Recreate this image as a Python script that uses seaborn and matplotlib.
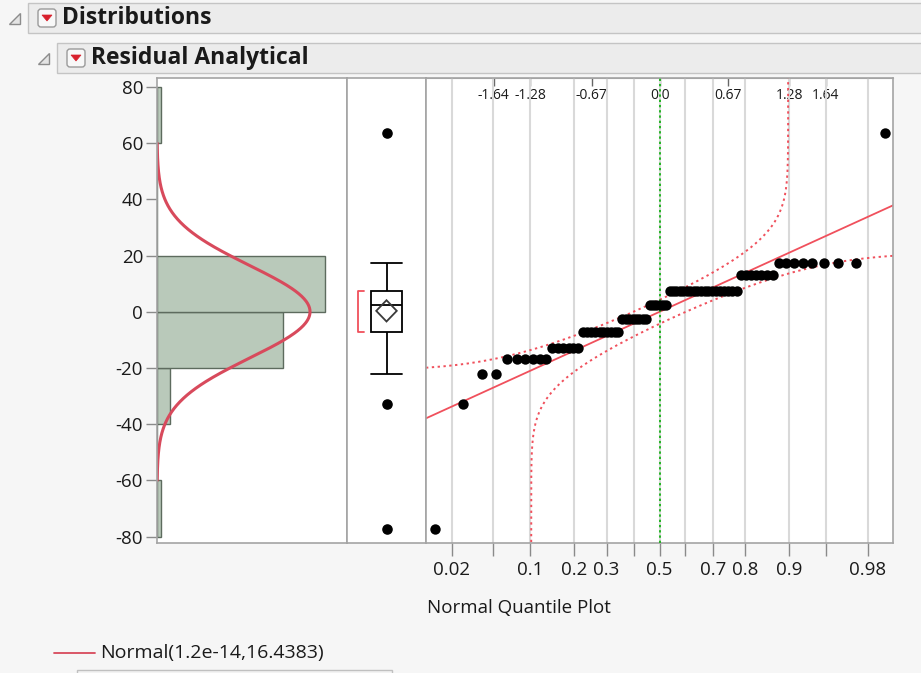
import numpy as np
import matplotlib
matplotlib.use("Agg")
import matplotlib.pyplot as plt
from matplotlib.patches import Rectangle, Polygon, FancyBboxPatch
import seaborn as sns
from statistics import NormalDist

# Residual levels and how many observations sit at each level
residual_levels = [-77.2, -33.0, -22.2, -16.8, -12.9, -7.1, -2.7, 2.4, 7.4, 13.1, 17.4, 63.5]
level_counts = [1, 1, 2, 6, 6, 10, 8, 6, 19, 7, 8, 1]

# Fitted normal distribution (legend values)
fit_mean = 1.2e-14
fit_sd = 16.4383
legend_label = "Normal(1.2e-14,16.4383)"

hist_bins = [-80, -60, -40, -20, 0, 20, 40, 60, 80]
y_ticks = [80, 60, 40, 20, 0, -20, -40, -60, -80]

prob_ticks = [0.02, 0.05, 0.1, 0.2, 0.3, 0.4, 0.5, 0.6, 0.7, 0.8, 0.9, 0.95, 0.98]
prob_labels = ["0.02", "", "0.1", "0.2", "0.3", "", "0.5", "", "0.7", "0.8", "0.9", "", "0.98"]
z_ticks = [-1.64, -1.28, -0.67, 0.0, 0.67, 1.28, 1.64]
z_labels = ["-1.64", "-1.28", "-0.67", "0.0", "0.67", "1.28", "1.64"]

# ---------------------------------------------------------------- styling
sns.set_style("white")
plt.rcParams["font.family"] = ["Open Sans", "DejaVu Sans"]

BG = "#f6f6f6"
FRAME = "#a4a4a4"
BAR_FILL = "#b9c9ba"
BAR_EDGE = "#5d6b5e"
CURVE_RED = "#d84a5c"
LINE_RED = "#f0505c"
GREEN = "#22b522"
TEXT = "#1a1a1a"

W, H = 921, 673
fig = plt.figure(figsize=(W / 100, H / 100), dpi=100, facecolor=BG)


def rect(l, t, r, b):
    return [l / W, 1 - b / H, (r - l) / W, (b - t) / H]


# ---------------------------------------------------------------- derived data
residuals = np.sort(np.repeat(residual_levels, level_counts))
n = len(residuals)
std_normal = NormalDist()
fitted = NormalDist(fit_mean, fit_sd)
normal_scores = np.array([std_normal.inv_cdf(i / (n + 1)) for i in range(1, n + 1)])
bin_width = hist_bins[1] - hist_bins[0]

y_lim = (-82.3, 83.2)
z_lim = (-2.307, 2.304)

# ---------------------------------------------------------------- page chrome
page = fig.add_axes([0, 0, 1, 1], zorder=0)
page.set_xlim(0, W)
page.set_ylim(H, 0)
page.axis("off")

for (x0, y0, label) in [(28, 3, "Distributions"), (57, 43, "Residual Analytical")]:
    page.add_patch(Rectangle((x0, y0), W - x0 + 2, 30, facecolor="#ececec",
                             edgecolor="#c4c4c4", lw=1))
    # disclosure triangle
    tx = x0 - 19
    page.add_patch(Polygon([(tx, y0 + 21), (tx + 11, y0 + 21), (tx + 11, y0 + 10)],
                           closed=True, facecolor="#e4e4e4", edgecolor="#8c8c8c", lw=1))
    # red popup menu button
    page.add_patch(FancyBboxPatch((x0 + 10, y0 + 6), 18, 18,
                                  boxstyle="round,pad=0,rounding_size=3",
                                  facecolor="#f8f8f8", edgecolor="#9a9a9a", lw=1))
    page.add_patch(Polygon([(x0 + 14, y0 + 12), (x0 + 24, y0 + 12), (x0 + 19, y0 + 18)],
                           closed=True, facecolor="#d8202c", edgecolor="#d8202c", lw=0.5))
    page.text(x0 + 34, y0 + 15, label, fontsize=16.5, fontweight="bold",
              color=TEXT, va="center", ha="left")

# legend
page.plot([54, 95], [653, 653], color=CURVE_RED, lw=1.3)
page.text(100, 653, legend_label, fontsize=14, color=TEXT, va="center", ha="left")
page.add_patch(Rectangle((77, 670), 315, 10, facecolor="#f3f3f3", edgecolor="#c0c0c0", lw=1))

# ---------------------------------------------------------------- panels
ax_h = fig.add_axes(rect(157, 78, 347, 543), zorder=2)
ax_b = fig.add_axes(rect(347, 78, 426, 543), zorder=2)
ax_q = fig.add_axes(rect(426, 78, 893, 543), zorder=2)

for ax in (ax_h, ax_b, ax_q):
    ax.set_facecolor("white")
    ax.set_ylim(*y_lim)
    for sp in ax.spines.values():
        sp.set_color(FRAME)
        sp.set_linewidth(1.2)

# histogram with fitted normal curve
sns.histplot(y=residuals, bins=hist_bins, stat="count", color=BAR_FILL,
             edgecolor=BAR_EDGE, linewidth=1, alpha=1, ax=ax_h)
curve_y = np.linspace(-60, 60, 400)
curve_x = np.array([n * bin_width * fitted.pdf(v) for v in curve_y])
sns.lineplot(x=curve_x, y=curve_y, orient="y", sort=False, color=CURVE_RED,
             lw=2.2, ax=ax_h)
ax_h.set_xlim(0, 45.2)
ax_h.set_xlabel("")
ax_h.set_ylabel("")
ax_h.set_xticks([])
ax_h.set_yticks(y_ticks, labels=[str(v) for v in y_ticks])
ax_h.tick_params(axis="y", left=True, length=8, width=1, color="#8a8a8a",
                 labelsize=13.5, labelcolor=TEXT, pad=2)

# outlier box plot
sns.boxplot(y=residuals, ax=ax_b, width=0.4, color="white", linecolor="black",
            linewidth=1.3,
            flierprops=dict(marker="o", markersize=6.6, markerfacecolor="black",
                            markeredgecolor="black"))
for ln in ax_b.lines:
    xd, yd = np.asarray(ln.get_xdata(), float), np.asarray(ln.get_ydata(), float)
    if len(xd) == 2 and yd[0] == yd[1] and abs(xd[1] - xd[0]) < 0.3:
        ln.set_xdata([-0.2, 0.2])
ax_b.set_xlim(-0.5, 0.5)
ax_b.set_ylim(*y_lim)

# mean confidence diamond
m = residuals.mean()
half_ci = 1.993 * residuals.std(ddof=1) / np.sqrt(n)
ax_b.add_patch(Polygon([(0, m - half_ci), (0.13, m), (0, m + half_ci), (-0.13, m)],
                       closed=True, fill=False, edgecolor="#3a3a3a", lw=1.3, zorder=4))

# shortest half bracket
k = int(np.ceil(n / 2))
spans = residuals[k - 1:] - residuals[:n - k + 1]
i0 = int(np.argmin(spans))
lo, hi = residuals[i0], residuals[i0 + k - 1]
ax_b.plot([-0.285, -0.357, -0.357, -0.285], [hi, hi, lo, lo], color=LINE_RED, lw=1.3)
ax_b.set_xticks([])
ax_b.set_yticks([])
ax_b.set_xlabel("")
ax_b.set_ylabel("")

# normal quantile plot
prob_z = [std_normal.inv_cdf(p) for p in prob_ticks]
ax_q.set_xlim(*z_lim)
ax_q.set_xticks(prob_z, labels=prob_labels)
ax_q.grid(axis="x", color="#d9d9d9", lw=1.5)
ax_q.set_axisbelow(True)
ax_q.set_yticks([])
ax_q.tick_params(axis="x", bottom=True, length=9, width=1, color="#8a8a8a",
                 labelsize=13.5, labelcolor=TEXT, pad=4)

# Lilliefors confidence bounds
D = 0.886 / np.sqrt(n)
p_lo = std_normal.cdf(z_lim[0])
p_hi = std_normal.cdf(z_lim[1])
p_up = np.concatenate([np.linspace(p_lo, 1 - D - 0.02, 300),
                       1 - D - np.logspace(np.log10(0.02), -9, 200)])
z_up = np.array([std_normal.inv_cdf(p) for p in p_up])
y_up = np.array([fit_mean + fit_sd * std_normal.inv_cdf(p + D) for p in p_up])
p_dn = np.concatenate([D + np.logspace(-9, np.log10(0.02), 200),
                       np.linspace(D + 0.02, p_hi, 300)])
z_dn = np.array([std_normal.inv_cdf(p) for p in p_dn])
y_dn = np.array([fit_mean + fit_sd * std_normal.inv_cdf(p - D) for p in p_dn])
for zz, yy in ((z_up, y_up), (z_dn, y_dn)):
    sns.lineplot(x=zz, y=yy, sort=False, color=LINE_RED, lw=1.4,
                 linestyle=(0, (1.2, 1.8)), ax=ax_q)

# fitted line
z_line = np.array(z_lim)
sns.lineplot(x=z_line, y=fit_mean + fit_sd * z_line, color=LINE_RED, lw=1.3, ax=ax_q)
ax_q.axvline(0, color=GREEN, lw=1.4, linestyle=(0, (1.2, 1.5)), zorder=3)

sns.scatterplot(x=normal_scores, y=residuals, color="black", s=56, linewidth=0,
                ax=ax_q, zorder=5)
ax_q.set_xlim(*z_lim)
ax_q.set_ylim(*y_lim)
ax_q.set_xlabel("")
ax_q.set_ylabel("")

top = ax_q.secondary_xaxis("top")
top.set_xticks(z_ticks, labels=z_labels)
top.tick_params(direction="in", length=6, width=1, color="#666666",
                labelsize=10, labelcolor=TEXT, pad=-18)
top.spines["top"].set_color(FRAME)

fig.text(427 / W, 1 - 608 / H, "Normal Quantile Plot", fontsize=13.5, color=TEXT,
         ha="left", va="center")

fig.savefig("out.png", dpi=100, facecolor=BG)
